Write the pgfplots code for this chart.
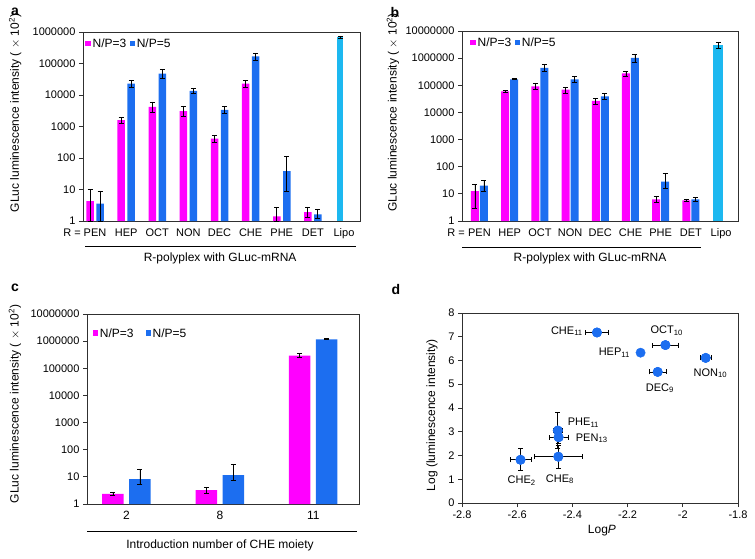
\documentclass[border=0pt]{standalone}
\usepackage{fontspec}
\setmainfont{Liberation Sans}
\usepackage{pgfplots}
\pgfplotsset{compat=1.18}
\definecolor{mag}{HTML}{FF00FF}
\definecolor{blu}{HTML}{1C6EF0}
\definecolor{lipo}{HTML}{1CB8F0}
\definecolor{axgray}{HTML}{303030}
\pgfplotsset{
  panel/.style={scale only axis, anchor=south west,
    axis line style={axgray, line width=0.9pt},
    tick style={axgray, line width=0.8pt},
    tick align=outside, tick pos=left, major tick length=4pt,
    tick label style={font=\fontsize{11}{13}\selectfont},
    label style={font=\fontsize{12}{14}\selectfont}},
  ebar/.style={error bars/y dir=both, error bars/y explicit,
    error bars/error bar style={black, line width=0.8pt},
    error bars/error mark options={black, line width=0.8pt, mark size=2.5pt, rotate=90}},
}
\newcommand{\sq}[1]{\raisebox{1.6pt}{\tikz\fill[#1] (0pt,0pt) rectangle (5.2pt,5.2pt);}}
\begin{document}
\begin{tikzpicture}[x=1pt,y=1pt]
\path[use as bounding box] (0,0) rectangle (755,558);

% ---------------- panel a ----------------
\begin{axis}[panel, ymode=log, ymin=1, ymax=1000000, yminorticks=false,
  ybar, major x tick style={draw=none}, clip=false,
  at={(83pt,337pt)}, width=277pt, height=189pt,
  xmin=-0.386, xmax=8.514, bar width=7.5pt,
  ytick={1,10,100,1000,10000,100000,1000000},
  yticklabels={1,10,100,1000,10000,100000,1000000},
  xtick={0,1,2,3,4,5,6,7,8},
  xticklabels={PEN,HEP,OCT,NON,DEC,CHE,PHE,DET,Lipo},
  ylabel={GLuc luminescence intensity ( $\times$ 10\textsuperscript{2})},
  ylabel style={at={(axis description cs:-0.245,0.571)}, anchor=center},
  xlabel={R-polyplex with GLuc-mRNA},
  xlabel style={at={(axis description cs:0.495,-0.196)}, anchor=center}]
\addplot[fill=mag, draw=none, bar shift=-5pt, ebar] coordinates {
 (0,4.3) += (0,5.6) -= (0,3.3)
 (1,1580) += (0,420) -= (0,350)
 (2,4170) += (0,1830) -= (0,1280)
 (3,3100) += (0,1170) -= (0,950)
 (4,410) += (0,115) -= (0,87)
 (5,23000) += (0,6000) -= (0,5000)
 (6,1.4) += (0,1.25) -= (0,0.4)
 (7,1.9) += (0,0.9) -= (0,0.56)
};
\addplot[fill=blu, draw=none, bar shift=5pt, ebar] coordinates {
 (0,3.55) += (0,5.45) -= (0,2.55)
 (1,23000) += (0,6400) -= (0,6000)
 (2,47500) += (0,16000) -= (0,12700)
 (3,13400) += (0,2400) -= (0,1900)
 (4,3400) += (0,960) -= (0,840)
 (5,169000) += (0,46000) -= (0,43000)
 (6,38.6) += (0,74) -= (0,30)
 (7,1.63) += (0,0.66) -= (0,0.44)
};
\addplot[fill=lipo, draw=none, bar shift=-4pt, bar width=6.5pt, ebar] coordinates {
 (8,690000) += (0,60000) -= (0,60000)
};
\node[anchor=west, font=\fontsize{12}{14}\selectfont, inner sep=0pt] at (axis description cs:0.008,0.94) {\sq{mag}\,N/P=3 \sq{blu}\,N/P=5};
\end{axis}

% ---------------- panel b ----------------
\begin{axis}[panel, ymode=log, ymin=1, ymax=10000000, yminorticks=false,
  ybar, major x tick style={draw=none}, clip=false,
  at={(462pt,337pt)}, width=276pt, height=190pt,
  xmin=-0.578, xmax=8.56, bar width=8pt,
  ytick={1,10,100,1000,10000,100000,1000000,10000000},
  yticklabels={1,10,100,1000,10000,100000,1000000,10000000},
  xtick={0,1,2,3,4,5,6,7,8},
  xticklabels={PEN,HEP,OCT,NON,DEC,CHE,PHE,DET,Lipo},
  ylabel={GLuc luminescence intensity ( $\times$ 10\textsuperscript{2})},
  ylabel style={at={(axis description cs:-0.25,0.571)}, anchor=center},
  xlabel={R-polyplex with GLuc-mRNA},
  xlabel style={at={(axis description cs:0.464,-0.195)}, anchor=center}]
\addplot[fill=mag, draw=none, bar shift=-4.5pt, ebar] coordinates {
 (0,12.5) += (0,10.5) -= (0,9.7)
 (1,60000) += (0,5000) -= (0,5000)
 (2,92000) += (0,25000) -= (0,22000)
 (3,69000) += (0,18000) -= (0,17000)
 (4,26500) += (0,7500) -= (0,7000)
 (5,275000) += (0,55000) -= (0,55000)
 (6,6.3) += (0,1.9) -= (0,1.5)
 (7,5.8) += (0,0.7) -= (0,0.6)
};
\addplot[fill=blu, draw=none, bar shift=4.5pt, ebar] coordinates {
 (0,20) += (0,11.6) -= (0,8)
 (1,166000) += (0,7000) -= (0,7000)
 (2,437000) += (0,130000) -= (0,120000)
 (3,166000) += (0,45000) -= (0,40000)
 (4,39000) += (0,10000) -= (0,8500)
 (5,1020000) += (0,330000) -= (0,300000)
 (6,28) += (0,29) -= (0,12)
 (7,6.3) += (0,0.9) -= (0,0.8)
};
\addplot[fill=lipo, draw=none, bar shift=-2.7pt, bar width=10pt, ebar] coordinates {
 (8,2970000) += (0,830000) -= (0,750000)
};
\node[anchor=west, font=\fontsize{12}{14}\selectfont, inner sep=0pt] at (axis description cs:0.03,0.94) {\sq{mag}\,N/P=3 \sq{blu}\,N/P=5};
\end{axis}

% ---------------- panel c ----------------
\begin{axis}[panel, ymode=log, ymin=1, ymax=10000000, yminorticks=false,
  ybar, major x tick style={draw=none}, clip=false,
  at={(87pt,54pt)}, width=272pt, height=190pt,
  xmin=-0.423, xmax=2.49, bar width=21.5pt,
  ytick={1,10,100,1000,10000,100000,1000000,10000000},
  yticklabels={1,10,100,1000,10000,100000,1000000,10000000},
  xtick={0,1,2}, xticklabels={2,8,11},
  xticklabel style={font=\fontsize{12}{14}\selectfont},
  ylabel={GLuc luminescence intensity ( $\times$ 10\textsuperscript{2})},
  ylabel style={at={(axis description cs:-0.265,0.526)}, anchor=center},
  xlabel={Introduction number of CHE moiety},
  xlabel style={at={(axis description cs:0.489,-0.216)}, anchor=center}]
\addplot[fill=mag, draw=none, bar shift=-13.5pt, ebar] coordinates {
 (0,2.34) += (0,0.36) -= (0,0.34)
 (1,3.28) += (0,0.8) -= (0,0.75)
 (2,294000) += (0,46000) -= (0,44000)
};
\addplot[fill=blu, draw=none, bar shift=13.5pt, ebar] coordinates {
 (0,8.3) += (0,11.2) -= (0,3)
 (1,11.7) += (0,17.3) -= (0,4)
 (2,1170000) += (0,40000) -= (0,40000)
};
\node[anchor=west, font=\fontsize{12}{14}\selectfont, inner sep=0pt] at (axis description cs:0.02,0.9) {\sq{mag}\,N/P=3\hspace{12pt}\sq{blu}\,N/P=5};
\end{axis}

% ---------------- panel d ----------------
\begin{axis}[panel, at={(462pt,55pt)}, width=276pt, height=190pt,
  xmin=-2.8, xmax=-1.8, ymin=0, ymax=8, clip=false,
  xtick={-2.8,-2.6,-2.4,-2.2,-2,-1.8},
  xticklabels={-2.8,-2.6,-2.4,-2.2,-2,-1.8},
  ytick={0,1,2,3,4,5,6,7,8}, yticklabels={0,1,2,3,4,5,6,7,8},
  xlabel={Log\textit{P}},
  xlabel style={at={(axis description cs:0.507,-0.147)}, anchor=center},
  ylabel={Log (luminescence intensity)},
  ylabel style={at={(axis description cs:-0.109,0.463)}, anchor=center}]
\addplot[only marks, mark=*, mark size=4.7pt, mark options={draw=blu, fill=blu},
  error bars/x dir=both, error bars/x explicit,
  error bars/error bar style={black, line width=0.8pt},
  error bars/error mark options={black, line width=0.8pt, mark size=2.5pt, rotate=90}] coordinates {
 (-2.311,7.18) +- (0.041,0)
 (-2.063,6.65) +- (0.047,0)
 (-1.917,6.11) +- (0.02,0)
 (-2.091,5.52) +- (0.03,0)
};
\addplot[only marks, mark=*, mark size=4.7pt, mark options={draw=blu, fill=blu},
  error bars/x dir=both, error bars/x explicit,
  error bars/y dir=both, error bars/y explicit,
  error bars/error bar style={black, line width=0.8pt},
  error bars/error mark options={black, line width=0.8pt, mark size=2.5pt, rotate=90}] coordinates {
 (-2.453,3.05) +- (0.015,0.75)
 (-2.450,2.77) +- (0.034,0.25)
 (-2.451,1.95) +- (0.086,0.48)
 (-2.588,1.82) +- (0.038,0.46)
};
\addplot[only marks, mark=*, mark size=4.7pt, mark options={draw=blu, fill=blu}] coordinates {
 (-2.311,7.18) (-2.063,6.65) (-2.153,6.33) (-1.917,6.11) (-2.091,5.52)
 (-2.453,3.05) (-2.450,2.77) (-2.451,1.95) (-2.588,1.82)
};
\node[font=\fontsize{11}{13}\selectfont] at (axis cs:-2.42,7.24) {CHE\textsubscript{11}};
\node[font=\fontsize{11}{13}\selectfont] at (axis cs:-2.058,7.25) {OCT\textsubscript{10}};
\node[font=\fontsize{11}{13}\selectfont] at (axis cs:-2.248,6.33) {HEP\textsubscript{11}};
\node[font=\fontsize{11}{13}\selectfont] at (axis cs:-1.90,5.46) {NON\textsubscript{10}};
\node[font=\fontsize{11}{13}\selectfont] at (axis cs:-2.083,4.83) {DEC\textsubscript{9}};
\node[font=\fontsize{11}{13}\selectfont] at (axis cs:-2.36,3.38) {PHE\textsubscript{11}};
\node[font=\fontsize{11}{13}\selectfont] at (axis cs:-2.33,2.72) {PEN\textsubscript{13}};
\node[font=\fontsize{11}{13}\selectfont] at (axis cs:-2.445,1.0) {CHE\textsubscript{8}};
\node[font=\fontsize{11}{13}\selectfont] at (axis cs:-2.584,0.93) {CHE\textsubscript{2}};
\end{axis}

% ---------------- extra text and lines ----------------
\node[font=\fontsize{11}{13}\selectfont] at (72,325) {R =};
\node[font=\fontsize{11}{13}\selectfont] at (456,325) {R =};
\draw[black, line width=0.8pt] (85,312) -- (356,312);
\draw[black, line width=0.8pt] (462,311) -- (701,311);
\draw[black, line width=0.8pt] (87,27) -- (357,27);
\node[font=\bfseries\fontsize{14}{16}\selectfont] at (15,546) {a};
\node[font=\bfseries\fontsize{14}{16}\selectfont] at (395,546) {b};
\node[font=\bfseries\fontsize{14}{16}\selectfont] at (15,270) {c};
\node[font=\bfseries\fontsize{14}{16}\selectfont] at (396,269) {d};
\end{tikzpicture}
\end{document}
